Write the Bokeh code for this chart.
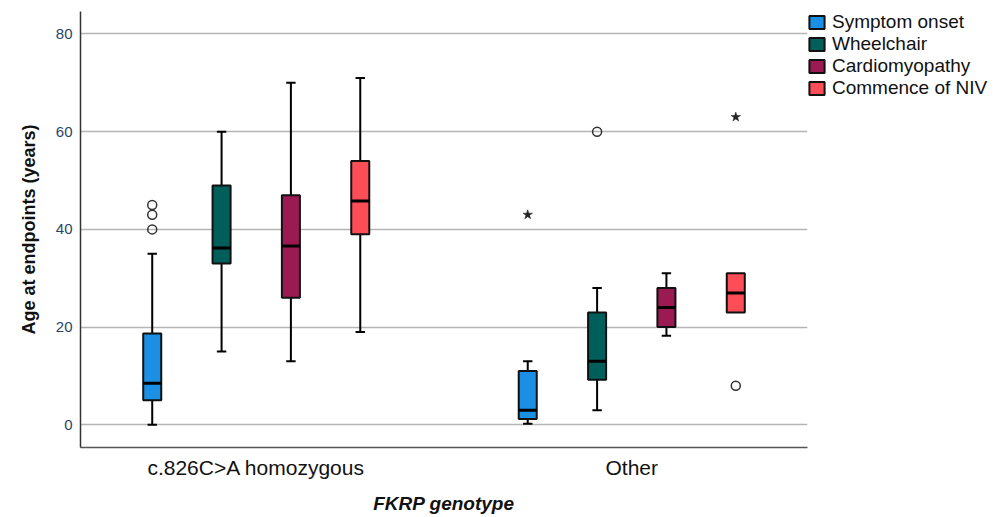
from bokeh.plotting import figure
from bokeh.models import Legend, LegendItem, FixedTicker, Range1d
from bokeh.embed import file_html
from bokeh.resources import INLINE

genotypes = ["c.826C>A homozygous", "Other"]
endpoints = ["Symptom onset", "Wheelchair", "Cardiomyopathy", "Commence of NIV"]
colors = ["#1a8fe3", "#005f5b", "#9c1a52", "#fd4d56"]

# box statistics per endpoint: [genotype0, genotype1]
lower = {"Symptom onset": [0, 0.2], "Wheelchair": [15, 3], "Cardiomyopathy": [13, 18.2], "Commence of NIV": [19, 23]}
q1 = {"Symptom onset": [5, 1.2], "Wheelchair": [33, 9.2], "Cardiomyopathy": [26, 20], "Commence of NIV": [39, 23]}
median = {"Symptom onset": [8.5, 3], "Wheelchair": [36.2, 13], "Cardiomyopathy": [36.6, 24], "Commence of NIV": [45.8, 27]}
q3 = {"Symptom onset": [18.7, 11], "Wheelchair": [49, 23], "Cardiomyopathy": [47, 28], "Commence of NIV": [54, 31]}
upper = {"Symptom onset": [35, 13], "Wheelchair": [60, 28], "Cardiomyopathy": [70, 31], "Commence of NIV": [71, 31]}

# outliers (circles) and extremes (stars): (genotype index, endpoint, value)
outliers = [(0, "Symptom onset", 40), (0, "Symptom onset", 43), (0, "Symptom onset", 45),
            (1, "Wheelchair", 60), (1, "Commence of NIV", 8)]
extremes = [(1, "Symptom onset", 43), (1, "Commence of NIV", 63)]

y_ticks = [0, 20, 40, 60, 80]

offsets = [-0.277, -0.0923, 0.0923, 0.277]
box_w = 0.048
cap_w = 0.025

p = figure(frame_width=727, frame_height=436, output_backend="svg", toolbar_location=None,
           x_range=Range1d(-0.468, 1.468), y_range=Range1d(-4.65, 84.6),
           min_border_left=80, min_border_right=190, min_border_top=11, min_border_bottom=68)
p.outline_line_color = None
p.background_fill_color = "white"

items = []
for j, ep in enumerate(endpoints):
    xs = [i + offsets[j] for i in range(len(genotypes))]
    # whiskers
    p.segment(x0=xs, x1=xs, y0=q3[ep], y1=upper[ep], line_color="black", line_width=2)
    p.segment(x0=xs, x1=xs, y0=lower[ep], y1=q1[ep], line_color="black", line_width=2)
    caps = [k for k in range(len(xs)) if upper[ep][k] != q3[ep][k]]
    p.segment(x0=[xs[k] - cap_w / 2 for k in caps], x1=[xs[k] + cap_w / 2 for k in caps],
              y0=[upper[ep][k] for k in caps], y1=[upper[ep][k] for k in caps], line_color="black", line_width=2)
    capsl = [k for k in range(len(xs)) if lower[ep][k] != q1[ep][k]]
    p.segment(x0=[xs[k] - cap_w / 2 for k in capsl], x1=[xs[k] + cap_w / 2 for k in capsl],
              y0=[lower[ep][k] for k in capsl], y1=[lower[ep][k] for k in capsl], line_color="black", line_width=2)
    r = p.vbar(x=xs, width=box_w, bottom=q1[ep], top=q3[ep], fill_color=colors[j],
               line_color="#111111", line_width=2)
    p.segment(x0=[x - box_w / 2 for x in xs], x1=[x + box_w / 2 for x in xs],
              y0=median[ep], y1=median[ep], line_color="black", line_width=3)
    items.append(LegendItem(label=ep, renderers=[r]))

ox = [g + offsets[endpoints.index(e)] for g, e, v in outliers]
oy = [v for g, e, v in outliers]
p.scatter(x=ox, y=oy, marker="circle", size=9, fill_color=None, line_color="#333333", line_width=1.5)
ex = [g + offsets[endpoints.index(e)] for g, e, v in extremes]
ey = [v for g, e, v in extremes]
p.scatter(x=ex, y=ey, marker="star", size=10, fill_color="#222222", line_color="#222222", line_width=0.5)

# axes
p.xaxis.ticker = FixedTicker(ticks=list(range(len(genotypes))))
p.xaxis.major_label_overrides = {i: g for i, g in enumerate(genotypes)}
p.xaxis.major_label_text_font = "Liberation Sans"
p.xaxis.major_label_text_font_size = "21px"
p.xaxis.major_label_text_color = "#111111"
p.xaxis.major_label_standoff = 8
p.xaxis.axis_label = "FKRP genotype"
p.xaxis.axis_label_text_font = "Liberation Sans"
p.xaxis.axis_label_text_font_size = "19px"
p.xaxis.axis_label_text_font_style = "bold italic"
p.xaxis.axis_label_text_color = "#111111"
p.xaxis.axis_label_standoff = 11
p.xaxis.major_tick_line_color = None
p.xaxis.major_tick_out = 0
p.xaxis.minor_tick_line_color = None
p.xaxis.axis_line_color = "#555555"
p.xaxis.axis_line_width = 1.5

p.yaxis.ticker = FixedTicker(ticks=y_ticks)
p.yaxis.major_label_text_font = "Liberation Sans"
p.yaxis.major_label_text_font_size = "15px"
p.yaxis.major_label_text_color = "#2a4466"
p.yaxis.major_label_standoff = 8
p.yaxis.axis_label = "Age at endpoints (years)"
p.yaxis.axis_label_text_font = "Liberation Sans"
p.yaxis.axis_label_text_font_size = "18px"
p.yaxis.axis_label_text_font_style = "bold"
p.yaxis.axis_label_text_color = "#111111"
p.yaxis.axis_label_standoff = 14
p.yaxis.major_tick_line_color = None
p.yaxis.major_tick_out = 0
p.yaxis.minor_tick_line_color = None
p.yaxis.axis_line_color = "#333333"
p.yaxis.axis_line_width = 1.5

p.xgrid.grid_line_color = None
p.ygrid.grid_line_color = "#b5b5b5"
p.ygrid.grid_line_width = 1.5

legend = Legend(items=items, location="top_left", margin=0, padding=0, spacing=-3,
                glyph_width=19, glyph_height=16, label_height=16, label_standoff=6,
                label_text_font="Liberation Sans", label_text_font_size="19px",
                label_text_color="#111111", border_line_color=None, background_fill_alpha=0)
p.add_layout(legend, "right")

open("out.html", "w").write(file_html(p, INLINE))
